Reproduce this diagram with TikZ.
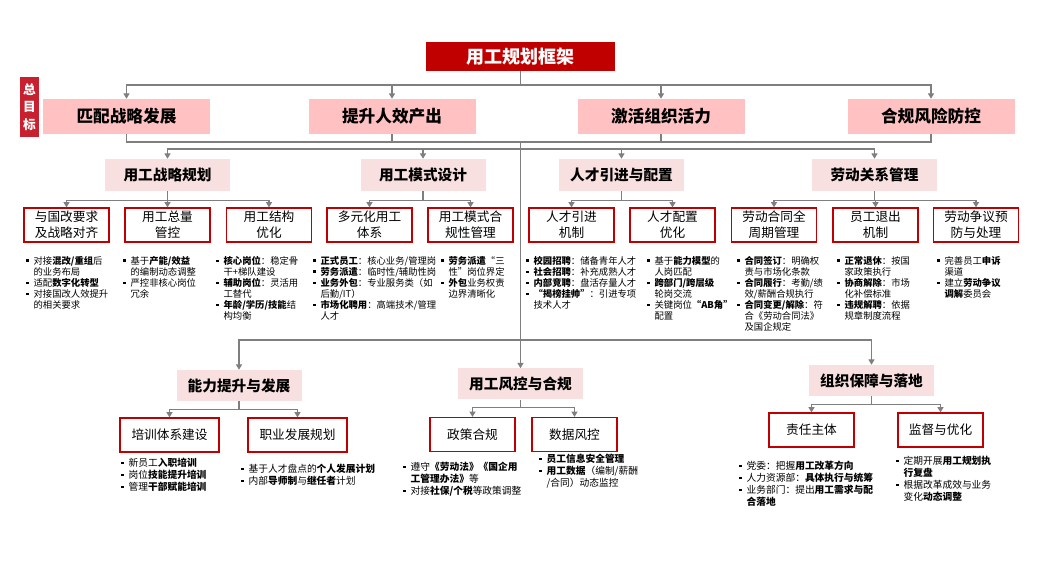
\documentclass[tikz,border=0pt]{standalone}
\usepackage{fontspec}
\setmainfont{Noto Sans CJK SC}
\usetikzlibrary{arrows.meta}
\definecolor{dred}{HTML}{C00000}
\definecolor{crim}{HTML}{C8202F}
\definecolor{goalpink}{HTML}{FFC1C1}
\definecolor{headpink}{HTML}{F9E0E0}
\definecolor{lgray}{HTML}{7F7F7F}
\newcommand{\bu}{\makebox[5.5pt][l]{\raisebox{0.28em}{\rule{1.7pt}{1.7pt}}}}
\newcommand{\ind}{\hspace*{5.5pt}}
\begin{document}
\begin{tikzpicture}[x=0.75pt,y=-0.75pt,
  conn/.style={draw=lgray,line width=0.9pt},
  arr/.style={conn,-{Triangle[length=4pt,width=4.5pt]}},
  titlebox/.style={fill=dred,text=white,font=\fontsize{13.5}{15}\selectfont\bfseries,minimum width=141.75pt,minimum height=21.75pt,inner sep=0pt},
  goalbox/.style={fill=goalpink,font=\fontsize{12.5}{14}\selectfont\bfseries,minimum width=125.25pt,minimum height=26.25pt,inner sep=0pt},
  headbox/.style={fill=headpink,font=\fontsize{11}{13}\selectfont\bfseries,minimum width=93.75pt,minimum height=24pt,inner sep=0pt},
  subbox/.style={draw=dred,line width=0.9pt,fill=white,font=\fontsize{9.5}{12}\selectfont,align=center,minimum width=63.75pt,minimum height=25.5pt,inner sep=0pt},
  bul/.style={anchor=north west,inner sep=0pt,align=left,font=\fontsize{7}{8.3}\selectfont},
  bulb/.style={anchor=north west,inner sep=0pt,align=left,font=\fontsize{7.3}{9}\selectfont},
]
\useasboundingbox (0,0) rectangle (1040,580);
\fill[white] (0,0) rectangle (1040,580);

% title and goals
\node[titlebox] (T) at (520.5,56.5) {用工规划框架};
\node[fill=crim,text=white,inner sep=0pt,minimum width=14.25pt,minimum height=45pt,align=center,font=\fontsize{9.5}{13}\selectfont\bfseries] (Z) at (29.5,107) {总\\目\\标};
\node[goalbox] (G1) at (126.5,116.5) {匹配战略发展};
\node[goalbox] (G2) at (392,116.5) {提升人效产出};
\node[goalbox] (G3) at (661,116.5) {激活组织活力};
\node[goalbox] (G4) at (931,116.5) {合规风险防控};

% section heads
\node[headbox] (H1) at (167.5,175) {用工战略规划};
\node[headbox] (H2) at (423,175) {用工模式设计};
\node[headbox] (H3) at (621.5,175) {人才引进与配置};
\node[headbox] (H4) at (874.5,175) {劳动关系管理};

% sub boxes
\node[subbox] (S1) at (66.5,225) {与国改要求\\及战略对齐};
\node[subbox] (S2) at (167.5,225) {用工总量\\管控};
\node[subbox] (S3) at (269,225) {用工结构\\优化};
\node[subbox] (S4) at (369.5,225) {多元化用工\\体系};
\node[subbox] (S5) at (470.5,225) {用工模式合\\规性管理};
\node[subbox] (S6) at (571.5,225) {人才引进\\机制};
\node[subbox] (S7) at (672.5,225) {人才配置\\优化};
\node[subbox] (S8) at (774,225) {劳动合同全\\周期管理};
\node[subbox] (S9) at (875.5,225) {员工退出\\机制};
\node[subbox] (S10) at (976,225) {劳动争议预\\防与处理};

% bullet texts row 1
\node[bul] (P1) at (26,256) {\bu 对接\textbf{混改/重组}后\\ \ind 的业务布局\\ \bu 适配\textbf{数字化转型}\\ \bu 对接国改人效提升\\ \ind 的相关要求};
\node[bul] (P2) at (123,256) {\bu 基于\textbf{产能/效益}\\ \ind 的编制动态调整\\ \bu 严控非核心岗位\\ \ind 冗余};
\node[bul] (P3) at (216,256) {\bu \textbf{核心岗位}：稳定骨\\ \ind 干+梯队建设\\ \bu \textbf{辅助岗位}：灵活用\\ \ind 工替代\\ \bu \textbf{年龄/学历/技能}结\\ \ind 构均衡};
\node[bul] (P4) at (313,256) {\bu \textbf{正式员工}：核心业务/管理岗\\ \bu \textbf{劳务派遣}：临时性/辅助性岗\\ \bu \textbf{业务外包}：专业服务类（如\\ \ind 后勤/IT）\\ \bu \textbf{市场化聘用}：高端技术/管理\\ \ind 人才};
\node[bul] (P5) at (441,256) {\bu \textbf{劳务派遣}“三\\ \ind 性”岗位界定\\ \bu \textbf{外包}业务权责\\ \ind 边界清晰化};
\node[bul] (P6) at (526,256) {\bu \textbf{校园招聘}：储备青年人才\\ \bu \textbf{社会招聘}：补充成熟人才\\ \bu \textbf{内部竞聘}：盘活存量人才\\ \bu \textbf{“揭榜挂帅”}：引进专项\\ \ind 技术人才};
\node[bul] (P7) at (647,256) {\bu 基于\textbf{能力模型}的\\ \ind 人岗匹配\\ \bu \textbf{跨部门/跨层级}\\ \ind 轮岗交流\\ \bu 关键岗位\textbf{“AB角”}\\ \ind 配置};
\node[bul] (P8) at (737,256) {\bu \textbf{合同签订}：明确权\\ \ind 责与市场化条款\\ \bu \textbf{合同履行}：考勤/绩\\ \ind 效/薪酬合规执行\\ \bu \textbf{合同变更/解除}：符\\ \ind 合《劳动合同法》\\ \ind 及国企规定};
\node[bul] (P9) at (837,256) {\bu \textbf{正常退休}：按国\\ \ind 家政策执行\\ \bu \textbf{协商解除}：市场\\ \ind 化补偿标准\\ \bu \textbf{违规解聘}：依据\\ \ind 规章制度流程};
\node[bul] (P10) at (937,256) {\bu 完善员工\textbf{申诉}\\ \ind 渠道\\ \bu 建立\textbf{劳动争议}\\ \ind \textbf{调解}委员会};

% bottom heads
\node[headbox,minimum height=23.25pt] (B1) at (239,385.5) {能力提升与发展};
\node[headbox,minimum height=23.25pt] (B2) at (520.5,384) {用工风控与合规};
\node[headbox,minimum height=23.25pt] (B3) at (871.5,380.5) {组织保障与落地};

% bottom subs
\node[subbox,minimum width=74.25pt] (BS1) at (169.5,435) {培训体系建设};
\node[subbox,minimum width=74.25pt] (BS2) at (297.5,435) {职业发展规划};
\node[subbox] (BS3) at (472.5,434.5) {政策合规};
\node[subbox] (BS4) at (574.5,434.5) {数据风控};
\node[subbox] (BS5) at (811.5,430) {责任主体};
\node[subbox] (BS6) at (940.5,430) {监督与优化};

% bottom bullets
\node[bulb] (Q1) at (121,458) {\bu 新员工\textbf{入职培训}\\ \bu 岗位\textbf{技能提升培训}\\ \bu 管理\textbf{干部赋能培训}};
\node[bulb] (Q2) at (241,464) {\bu 基于人才盘点的\textbf{个人发展计划}\\ \bu 内部\textbf{导师制}与\textbf{继任者}计划};
\node[bulb] (Q3) at (403,462) {\bu 遵守\textbf{《劳动法》《国企用}\\ \ind \textbf{工管理办法》}等\\ \bu 对接\textbf{社保/个税}等政策调整};
\node[bulb] (Q4) at (539,454) {\bu \textbf{员工信息安全管理}\\ \bu \textbf{用工数据}（编制/薪酬\\ \ind /合同）动态监控};
\node[bulb] (Q5) at (739,461) {\bu 党委：把握\textbf{用工改革方向}\\ \bu 人力资源部：\textbf{具体执行与统筹}\\ \bu 业务部门：提出\textbf{用工需求与配}\\ \ind \textbf{合落地}};
\node[bulb] (Q6) at (896,456) {\bu 定期开展\textbf{用工规划执}\\ \ind \textbf{行复盘}\\ \bu 根据改革成效与业务\\ \ind 变化\textbf{动态调整}};

% connectors
\coordinate (top) at (520.5,85);
\coordinate (bus1) at (520.5,142);
\coordinate (bus2) at (520.5,149);
\coordinate (trunk) at (520.5,340);
\draw[conn] (T.south) -- (top);
\draw[arr] (top) -| (G1.north);
\draw[arr] (top) -| (G2.north);
\draw[arr] (top) -| (G3.north);
\draw[arr] (top) -| (G4.north);
\draw[conn] (G1.south) |- (bus1) -| (G4.south);
\draw[conn] (G2.south) -- (G2.south |- bus1);
\draw[conn] (G3.south) -- (G3.south |- bus1);
\draw[conn] (bus1) -- (trunk);
\draw[arr] (bus2) -| (H1.north);
\draw[arr] (bus2) -| (H2.north);
\draw[arr] (bus2) -| (H3.north);
\draw[arr] (bus2) -| (H4.north);
\foreach \h/\s in {H1/S1,H1/S2,H1/S3,H2/S4,H2/S5,H3/S6,H3/S7,H4/S8,H4/S9,H4/S10}
  \draw[arr] (\h.south) -- ++(0,9) -| (\s.north);
\draw[arr] (trunk) -| (B1.north);
\draw[arr] (trunk) -- (B2.north);
\draw[arr] (trunk) -| (B3.north);
\foreach \h/\s in {B1/BS1,B1/BS2,B2/BS3,B2/BS4,B3/BS5,B3/BS6}
  \draw[arr] (\h.south) -- ++(0,8) -| (\s.north);
\end{tikzpicture}
\end{document}
